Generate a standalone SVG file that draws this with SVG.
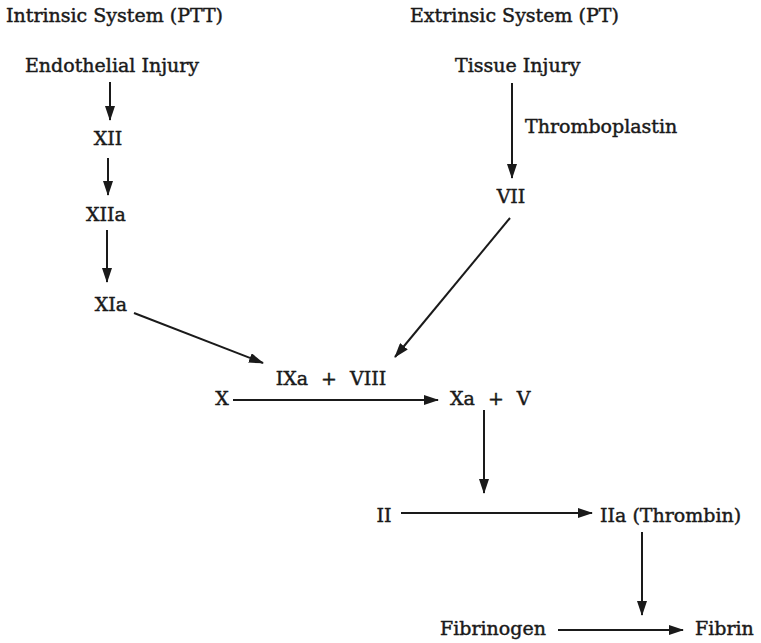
<svg xmlns="http://www.w3.org/2000/svg" width="761" height="643" viewBox="0 0 761 643">
<style>
text{font-family:"DejaVu Serif","Liberation Serif",serif;font-size:19px;fill:#1a1a1a;stroke:#1a1a1a;stroke-width:0.45}
.c line{stroke:#1a1a1a;stroke-width:2}
.sp{word-spacing:7px}
</style>
<defs>
<marker id="ah" markerWidth="15" markerHeight="10" refX="14" refY="5" orient="auto" markerUnits="userSpaceOnUse">
<path d="M0,0 L15,5 L0,10 Z" fill="#1a1a1a"/>
</marker>
</defs>
<rect width="761" height="643" fill="#fff"/>
<g id="intrinsic-title"><text x="6" y="22">Intrinsic System (PTT)</text></g>
<g id="extrinsic-title"><text x="410" y="22">Extrinsic System (PT)</text></g>
<g id="endothelial"><text x="25" y="72">Endothelial Injury</text></g>
<g id="xii"><text x="108" y="145" text-anchor="middle">XII</text></g>
<g id="xiia"><text x="106" y="221" text-anchor="middle">XIIa</text></g>
<g id="xia"><text x="111" y="311" text-anchor="middle">XIa</text></g>
<g id="tissue"><text x="455" y="72">Tissue Injury</text></g>
<g id="vii"><text x="511" y="203" text-anchor="middle">VII</text></g>
<g id="ixa"><text x="331" y="385" text-anchor="middle" class="sp">IXa + VIII</text></g>
<g id="x"><text x="222" y="405" text-anchor="middle">X</text></g>
<g id="xa"><text x="450" y="405" class="sp">Xa + V</text></g>
<g id="ii"><text x="384" y="522" text-anchor="middle">II</text></g>
<g id="iia"><text x="600" y="522">IIa (Thrombin)</text></g>
<g id="fibrinogen"><text x="440" y="635">Fibrinogen</text></g>
<g id="fibrin"><text x="695" y="635">Fibrin</text></g>
<g id="connectors" class="c">
<line x1="110" y1="82" x2="110" y2="120" marker-end="url(#ah)"/>
<line x1="108" y1="158" x2="108" y2="195" marker-end="url(#ah)"/>
<line x1="107" y1="230" x2="107" y2="282" marker-end="url(#ah)"/>
<line x1="134" y1="313" x2="263" y2="363" marker-end="url(#ah)"/>
<line x1="512" y1="83" x2="512" y2="178" marker-end="url(#ah)"/>
<text x="525" y="133">Thromboplastin</text>
<line x1="510" y1="218" x2="395" y2="357" marker-end="url(#ah)"/>
<line x1="233" y1="400" x2="438" y2="400" marker-end="url(#ah)"/>
<line x1="484" y1="410" x2="484" y2="493" marker-end="url(#ah)"/>
<line x1="401" y1="513" x2="592" y2="513" marker-end="url(#ah)"/>
<line x1="642" y1="532" x2="642" y2="615" marker-end="url(#ah)"/>
<line x1="558" y1="630" x2="683" y2="630" marker-end="url(#ah)"/>
</g>
</svg>
